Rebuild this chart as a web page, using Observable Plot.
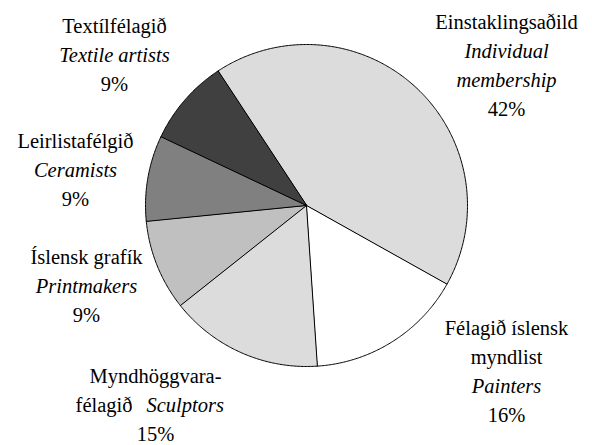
<!DOCTYPE html>
<html><head><meta charset="utf-8">
<script src="https://cdn.jsdelivr.net/npm/d3@7"></script>
<script src="https://cdn.jsdelivr.net/npm/@observablehq/plot@0.6"></script>
<style>
html,body{margin:0;padding:0;background:#fff;}
</style></head><body><div id="chart"></div>
<script>
// ---- data ----
const categories = ["Individual membership","Painters","Sculptors","Printmakers","Ceramists","Textile artists"];
const nameIs = ["Einstaklingsaðild","Félagið íslensk\nmyndlist","Myndhöggvara-\nfélagið","Íslensk grafík","Leirlistafélgið","Textílfélagið"];
const nameEn = ["Individual\nmembership","Painters","Sculptors","Printmakers","Ceramists","Textile artists"];
const values = [42.4, 15.8, 15.4, 9.1, 8.6, 8.7];

// ---- styles / layout ----
const fills = ["#dcdcdc","#ffffff","#dcdcdc","#c0c0c0","#808080","#404040"];
const W = 592, H = 445, CX = 306, CY = 205, R = 161;
const START_DEG = -33.4;
const LINE = 29, FONT = 20.5;
const FAMILY = "Liberation Serif";
// label block: centre x and first baseline (pixels)
const labelPos = [[506,28],[506,334],[155,382],[86,263],[75,147],[114,32]];
// category whose English name shares the last Icelandic line: [endOffset, startOffset]
const joined = {2: [-23, -9]};

const ux = px => (px - CX) / R;
const uy = py => (CY - py) / R;

const total = d3.sum(values);
const a0 = START_DEG * Math.PI / 180;
const arcs = d3.pie().sort(null).startAngle(a0).endAngle(a0 + 2 * Math.PI)(values);
const slices = arcs.map((a, i) => {
  const pts = [{x: 0, y: 0}];
  const n = Math.max(2, Math.ceil((a.endAngle - a.startAngle) / (Math.PI / 360)));
  for (let k = 0; k <= n; k++) {
    const t = a.startAngle + (a.endAngle - a.startAngle) * k / n;
    pts.push({x: Math.sin(t), y: Math.cos(t)});
  }
  return {i, pts};
});

const regMid = [], itaMid = [], regEnd = [], itaStart = [];
values.forEach((v, i) => {
  const [px, py] = labelPos[i];
  const isL = nameIs[i].split("\n"), enL = nameEn[i].split("\n");
  let row = 0;
  isL.forEach((t, k) => {
    if (joined[i] && k === isL.length - 1) {
      regEnd.push({x: ux(px + joined[i][0]), y: uy(py + row * LINE), t});
    } else {
      regMid.push({x: ux(px), y: uy(py + row * LINE), t});
      row++;
    }
  });
  enL.forEach((t, k) => {
    if (joined[i] && k === 0) {
      itaStart.push({x: ux(px + joined[i][1]), y: uy(py + row * LINE), t});
    } else {
      itaMid.push({x: ux(px), y: uy(py + row * LINE), t});
    }
    row++;
  });
  regMid.push({x: ux(px), y: uy(py + row * LINE), t: Math.round(v / total * 100) + "%"});
});

const txt = (data, opts) => Plot.text(data, {x: "x", y: "y", text: "t", lineAnchor: "bottom",
  fontSize: FONT, fontFamily: FAMILY, fill: "black", ...opts});

const chart = Plot.plot({
  width: W, height: H,
  margin: 0,
  x: {domain: [ux(0), ux(W)], axis: null},
  y: {domain: [uy(H), uy(0)], axis: null},
  style: {background: "white"},
  marks: [
    ...slices.map(s => Plot.line(s.pts, {x: "x", y: "y", curve: "linear-closed",
      fill: fills[s.i], stroke: "black", strokeWidth: 1, strokeLinejoin: "round"})),
    txt(regMid, {textAnchor: "middle"}),
    txt(itaMid, {textAnchor: "middle", fontStyle: "italic"}),
    txt(regEnd, {textAnchor: "end"}),
    txt(itaStart, {textAnchor: "start", fontStyle: "italic"})
  ]
});
document.getElementById("chart").appendChild(chart);
</script></body></html>
